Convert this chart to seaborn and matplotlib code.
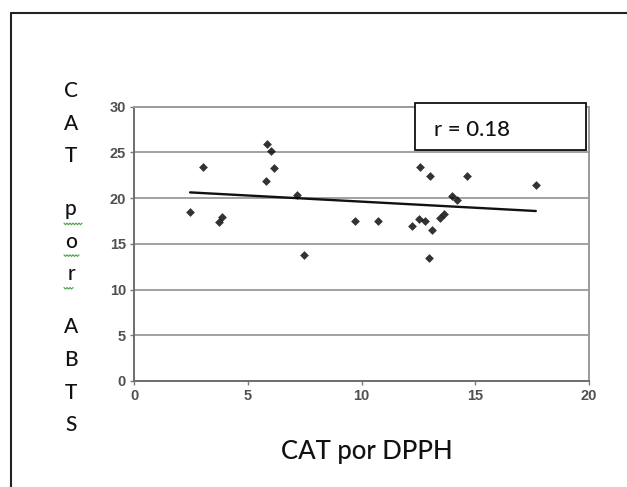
import numpy as np
import pandas as pd
import matplotlib
matplotlib.use("Agg")
import matplotlib.pyplot as plt
from matplotlib.lines import Line2D
from matplotlib.patches import Rectangle
import seaborn as sns

# Antioxidant capacity measured by two assays
cat_dpph = [2.45, 3.03, 3.72, 3.87, 5.78, 5.85, 6.01, 6.14, 7.15, 7.48,
            9.72, 10.70, 12.23, 12.50, 12.57, 12.79, 12.94, 13.01, 13.11,
            13.45, 13.63, 13.97, 14.21, 14.63, 17.66]
cat_abts = [18.45, 23.44, 17.42, 17.90, 21.87, 25.92, 25.19, 23.33, 20.38, 13.74,
            17.50, 17.50, 16.99, 17.69, 23.44, 17.50, 13.42, 22.42, 16.52,
            17.80, 18.23, 20.27, 19.80, 22.42, 21.47]
x_ticks = [0, 5, 10, 15, 20]
y_ticks = [0, 5, 10, 15, 20, 25, 30]
x_title = "CAT por DPPH"
y_title_words = ["CAT", "por", "ABTS"]

df = pd.DataFrame({"dpph": cat_dpph, "abts": cat_abts})
r_value = abs(np.corrcoef(df["dpph"], df["abts"])[0, 1])

sns.set_theme(style="white")
plt.rcParams["font.family"] = ["Liberation Sans", "DejaVu Sans"]

W, H = 627, 487
fig = plt.figure(figsize=(W / 100, H / 100), dpi=100)
fig.patch.set_facecolor("white")


def fx(px):
    return px / W


def fy(py):
    return 1 - py / H


ax = fig.add_axes([fx(134.4), fy(381), fx(589) - fx(134.4), fy(106.7) - fy(381)])
ax.set_facecolor("white")

sns.regplot(data=df, x="dpph", y="abts", ax=ax, ci=None, color="black",
            marker="D",
            scatter_kws={"s": 20, "color": "black", "linewidths": 0, "zorder": 4},
            line_kws={"color": "#111111", "linewidth": 1.7, "zorder": 3})

ax.set_xlim(0, 20)
ax.set_ylim(0, 30)
ax.set_xticks(x_ticks)
ax.set_yticks(y_ticks)
ax.set_xlabel("")
ax.set_ylabel("")
ax.yaxis.grid(True, color="#9a9a9a", linewidth=1.3)
ax.xaxis.grid(False)
ax.set_axisbelow(True)
for side, sp in ax.spines.items():
    sp.set_visible(True)
    sp.set_color("#6e6e6e" if side in ("left", "bottom") else "#9a9a9a")
    sp.set_linewidth(1.4)
ax.tick_params(axis="both", which="major", direction="out", length=3,
               width=1.0, color="#7a7a7a", labelsize=10.5, labelcolor="#505050",
               bottom=True, left=True, pad=3)
for lab in ax.get_xticklabels() + ax.get_yticklabels():
    lab.set_fontweight("bold")

# outer frame (left and top edges)
fig.add_artist(Line2D([fx(11), fx(11)], [fy(13), 0], color="#222222", linewidth=1.5))
fig.add_artist(Line2D([fx(11), 1], [fy(13), fy(13)], color="#222222", linewidth=1.5))

# correlation box
box_l, box_t, box_r, box_b = 415, 103, 586, 150
fig.add_artist(Rectangle((fx(box_l) + 0.002, fy(box_b) - 0.002),
                         fx(box_r) - fx(box_l), fy(box_t) - fy(box_b),
                         facecolor="#bbbbbb", edgecolor="none", zorder=9))
fig.add_artist(Rectangle((fx(box_l), fy(box_b)), fx(box_r) - fx(box_l),
                         fy(box_t) - fy(box_b), facecolor="white",
                         edgecolor="#111111", linewidth=1.3, zorder=10))
text_font = ["Lato", "DejaVu Sans"]
fig.text(fx(434), fy(130), f"r = {r_value:.2f}", fontsize=16,
         family=text_font, fontweight="medium", color="#111111", ha="left",
         va="center", zorder=11)

# x-axis title
fig.text(fx(367), fy(459), x_title, fontsize=18.5, family=text_font,
         fontweight="medium", color="#111111", ha="center", va="baseline")

# stacked y-axis title, one letter per line
step, gap = 32.7, 20.0
base = 97.0
squiggle_words = {"por"}
for wi, word in enumerate(y_title_words):
    for ch in word:
        fig.text(fx(71), fy(base), ch, fontsize=15, family=text_font,
                 fontweight="medium", color="#111111",
                 ha="center", va="baseline")
        if word in squiggle_words:
            width = {"p": 18, "o": 16, "r": 9}[ch]
            xs = np.arange(0, width + 0.1, 1.5)
            ys = np.where((np.arange(len(xs)) % 2) == 0, 0.0, 1.6)
            sy = base + (8 if ch == "p" else 7)
            fig.add_artist(Line2D(fx(64 + xs), fy(sy + ys), color="#46a046",
                                  linewidth=0.8))
        base += step
    base += gap

fig.savefig("out.png", dpi=100, facecolor="white")
